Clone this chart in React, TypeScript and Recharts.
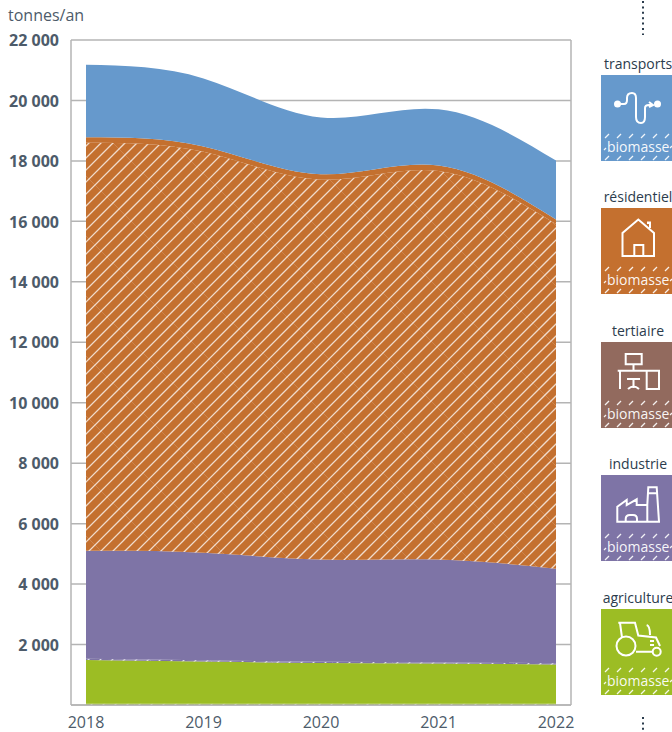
import React from "react";
import { AreaChart, Area, XAxis, YAxis, CartesianGrid } from "recharts";

const years = ["2018", "2019", "2020", "2021", "2022"];
const yTicks = [0, 2000, 4000, 6000, 8000, 10000, 12000, 14000, 16000, 18000, 20000, 22000];

// tonnes/an, in stacking order
const agricultureBiomass = [40, 40, 40, 40, 40];
const agriculture = [1450, 1400, 1350, 1330, 1300];
const industryBiomass = [40, 40, 40, 40, 40];
const industry = [3570, 3560, 3380, 3400, 3130];
const residentialBiomass = [13500, 13260, 12570, 12860, 11400];
const residential = [180, 180, 180, 180, 150];
const transports = [2400, 2250, 1880, 1855, 1950];

const data = years.map((year, i) => ({
  year,
  agricultureBiomass: agricultureBiomass[i],
  agriculture: agriculture[i],
  industryBiomass: industryBiomass[i],
  industry: industry[i],
  residentialBiomass: residentialBiomass[i],
  residential: residential[i],
  transports: transports[i],
}));

const BLUE = "#6699cc";
const ORANGE = "#c4702f";
const BROWN = "#926a5e";
const PURPLE = "#7e74a6";
const GREEN = "#9cbd24";
const GRID = "#b4b4b4";
const AXIS_TEXT = "#4d5b6a";
const TITLE = "#2b3c4d";
const FONT = "'Open Sans', sans-serif";

const legendTitles = ["transports", "résidentiel", "tertiaire", "industrie", "agriculture"];
const legendColors = [BLUE, ORANGE, BROWN, PURPLE, GREEN];
const legendTops = [75, 208, 342, 475, 609];

const fmt = (v: number) => (v === 0 ? "" : String(v).replace(/\B(?=(\d{3})+$)/g, " "));

const Hatch = ({ id, color }: { id: string; color: string }) => (
  <pattern id={id} patternUnits="userSpaceOnUse" x={4} width={60} height={60}>
    <rect width={60} height={60} fill={color} />
    <path
      d="M-3 3 L3 -3 M-3 15 L15 -3 M-3 27 L27 -3 M-3 39 L39 -3 M-3 51 L51 -3 M-3 63 L63 -3 M9 63 L63 9 M21 63 L63 21 M33 63 L63 33 M45 63 L63 45 M57 63 L63 57"
      stroke="#fff"
      strokeOpacity={0.75}
      strokeWidth={1.25}
    />
    <path d="M26 0 L60 34 M0 34 L26 60" stroke="#fff" strokeOpacity={0.15} strokeWidth={1} />
  </pattern>
);

const icons: React.ReactNode[] = [
  <g key="t">
    <circle cx={617.5} cy={104} r={3.5} fill="#fff" stroke="none" />
    <path d="M617 104 H624 Q627 104 627 100 V98 Q627 93 632 93 Q636 93 636 98 V117 Q636 123 641 123 Q645 123 645 117 V108 Q645 105 649 105 H653 M649 102 L653 105 L649 107" />
    <circle cx={657.5} cy={104} r={3.5} fill="#fff" stroke="none" />
  </g>,
  <g key="r">
    <path d="M622.5 256 V233 L638.3 219.5 L654 233 V256 Z M634.3 256 V245 H643.3 V256 M648 224 V222.5 H650 V228" />
  </g>,
  <g key="s">
    <path d="M625.7 354 H641.7 V364.3 H625.7 Z M633.5 364.3 V370.5 M617.7 370.7 H660 M620 370.7 V389 M646.7 370.7 V389 H659 V370.7 M627 379 H640 M633.5 379 V388 M628 389 Q633.5 384 639 389" />
  </g>,
  <g key="i">
    <path d="M617.3 521.7 V506.7 L626.7 500 V505 L636.7 499.3 V505 H647.3 L648.3 487.3 H656.7 L659 521.7 Z M648 493.3 H657 M647.3 505 V521.7 M625.7 521.7 V519 Q625.7 515 630 515 H633 Q637 515 637 519 V521.7" />
  </g>,
  <g key="a">
    <circle cx={626} cy={646} r={9.5} />
    <circle cx={656.7} cy={651.7} r={4} />
    <path d="M618.3 622.7 H635 L638.3 635.5 L656 637.5 L660 646 M620 623 L622 637.5 M636 651.7 H652.5 M646.7 625 Q650 626 650 635 M650 641 H654 M650 645 H654" />
  </g>,
];

function Overlay() {
  return (
    <svg width={672} height={732} style={{ position: "absolute", left: 0, top: 0, pointerEvents: "none" }}>
      <text x={8} y={21} fontFamily={FONT} fontSize={16} fill={AXIS_TEXT}>tonnes/an</text>
      <line x1={643} x2={643} y1={1} y2={35} stroke={TITLE} strokeWidth={2} strokeDasharray="2 3.4" />
      <line x1={643} x2={643} y1={717} y2={731} stroke={TITLE} strokeWidth={2} strokeDasharray="2 3.4" />
      {legendTitles.map((title, i) => {
        const top = legendTops[i];
        return (
          <g key={title}>
            <text x={638} y={top - 6} textAnchor="middle" fontFamily={FONT} fontSize={14} fill={TITLE}>{title}</text>
            <rect x={601} y={top} width={71} height={86} fill={legendColors[i]} />
            <g fill="none" stroke="#fff" strokeWidth={2}>{icons[i]}</g>
            <g stroke="#fff" strokeOpacity={0.9} strokeWidth={1.3}>
              {[0, 1, 2, 3, 4, 5].map((k) => (
                <React.Fragment key={k}>
                  <line x1={605 + k * 12} x2={609 + k * 12} y1={top + 63} y2={top + 59} />
                  <line x1={605 + k * 12} x2={609 + k * 12} y1={top + 85} y2={top + 81} />
                </React.Fragment>
              ))}
              <line x1={604} x2={606} y1={top + 75} y2={top + 73} />
              <line x1={670} x2={672} y1={top + 73} y2={top + 71} />
            </g>
            <text x={607} y={top + 77} fontFamily={FONT} fontSize={14} fill="#fff" fillOpacity={0.95}>biomasse</text>
          </g>
        );
      })}
    </svg>
  );
}

export default function App() {
  return (
    <div style={{ position: "absolute", left: 0, top: 0, width: 672, height: 732, overflow: "hidden", background: "#fff" }}>
      <AreaChart width={672} height={732} data={data} margin={{ top: 40, right: 101, bottom: 0, left: 0 }}>
        <defs>
          <Hatch id="hatchOrange" color={ORANGE} />
          <Hatch id="hatchPurple" color={PURPLE} />
          <Hatch id="hatchGreen" color={GREEN} />
        </defs>
        <CartesianGrid
          stroke={GRID}
          strokeWidth={1.5}
          verticalCoordinatesGenerator={({ offset }: any) => [offset.left, offset.left + offset.width]}
        />
        <XAxis
          dataKey="year"
          height={27}
          padding={{ left: 15, right: 15 }}
          tickLine={false}
          axisLine={{ stroke: GRID, strokeWidth: 1.5 }}
          interval={0}
          tickMargin={6}
          tick={{ fontFamily: FONT, fontSize: 16, fill: AXIS_TEXT }}
        />
        <YAxis
          width={71}
          domain={[0, 22000]}
          ticks={yTicks}
          tickFormatter={fmt}
          tickLine={false}
          axisLine={false}
          interval={0}
          tickMargin={6}
          tick={{ fontFamily: FONT, fontSize: 16, fontWeight: 700, fill: AXIS_TEXT, dy: 0.5 }}
        />
        <Area type="natural" dataKey="agricultureBiomass" stackId="a" fill="url(#hatchGreen)" fillOpacity={1} stroke="none" isAnimationActive={false} />
        <Area type="natural" dataKey="agriculture" stackId="a" fill={GREEN} fillOpacity={1} stroke="none" isAnimationActive={false} />
        <Area type="natural" dataKey="industryBiomass" stackId="a" fill="url(#hatchPurple)" fillOpacity={1} stroke="none" isAnimationActive={false} />
        <Area type="natural" dataKey="industry" stackId="a" fill={PURPLE} fillOpacity={1} stroke="none" isAnimationActive={false} />
        <Area type="natural" dataKey="residentialBiomass" stackId="a" fill="url(#hatchOrange)" fillOpacity={1} stroke="none" isAnimationActive={false} />
        <Area type="natural" dataKey="residential" stackId="a" fill={ORANGE} fillOpacity={1} stroke="none" isAnimationActive={false} />
        <Area type="natural" dataKey="transports" stackId="a" fill={BLUE} fillOpacity={1} stroke="none" isAnimationActive={false} />
      </AreaChart>
      <Overlay />
    </div>
  );
}
